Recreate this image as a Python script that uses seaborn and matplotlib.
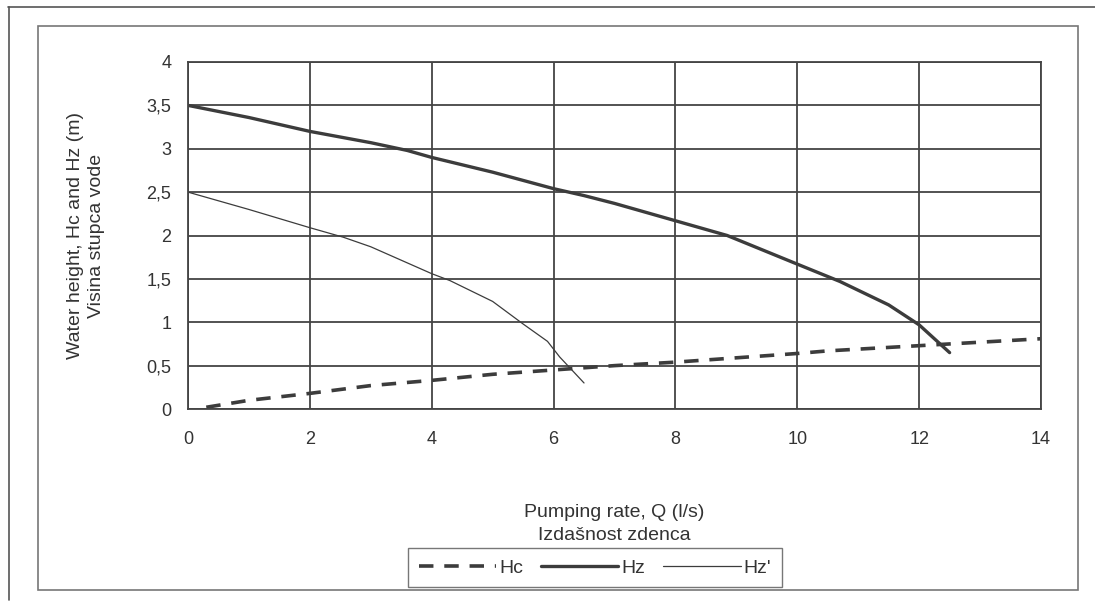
import matplotlib
matplotlib.use('Agg')
import matplotlib.pyplot as plt
import numpy as np
import pandas as pd
import seaborn as sns
from matplotlib.ticker import FuncFormatter, MultipleLocator

# values
hc_q = [0.3, 1, 2, 3, 4, 5, 6, 7, 8, 9, 10, 10.5, 11, 12, 13, 14]
hc_h = [0.02, 0.1, 0.18, 0.27, 0.33, 0.4, 0.45, 0.5, 0.54, 0.59, 0.64, 0.67, 0.69, 0.73, 0.77, 0.81]

hz_q = [0, 1, 2, 3, 3.6, 4, 5, 6, 6.5, 7, 8, 8.85, 10, 10.7, 11.5, 12, 12.5]
hz_h = [3.5, 3.36, 3.2, 3.07, 2.98, 2.9, 2.73, 2.54, 2.46, 2.37, 2.17, 2.0, 1.67, 1.47, 1.2, 0.97, 0.65]

hzp_q = [0, 1, 2, 2.55, 3, 4, 4.3, 5, 5.5, 5.9, 6.1, 6.5]
hzp_h = [2.5, 2.3, 2.09, 1.98, 1.87, 1.56, 1.48, 1.24, 0.98, 0.78, 0.6, 0.3]

df = pd.concat([
    pd.DataFrame({'Q': hc_q, 'H': hc_h, 'serie': 'Hc'}),
    pd.DataFrame({'Q': hz_q, 'H': hz_h, 'serie': 'Hz'}),
    pd.DataFrame({'Q': hzp_q, 'H': hzp_h, 'serie': "Hz'"}),
])

sns.set_style('white')
plt.rcParams['font.family'] = ['Liberation Sans', 'DejaVu Sans']

fig = plt.figure(figsize=(10.95, 6.11), dpi=100)
ax = fig.add_axes([188 / 1095, 1 - 409 / 611, 853 / 1095, 347 / 611])

line_col = '#3c3c3c'
sns.lineplot(data=df[df.serie == 'Hc'], x='Q', y='H', ax=ax, color=line_col,
             lw=2.6, label='Hc', sort=False)
ax.lines[-1].set_dashes([4, 3])
sns.lineplot(data=df[df.serie == 'Hz'], x='Q', y='H', ax=ax, color=line_col,
             lw=2.4, label='Hz', sort=False)
sns.lineplot(data=df[df.serie == "Hz'"], x='Q', y='H', ax=ax, color=line_col,
             lw=0.9, label="Hz'", sort=False)

ax.set_xlim(0, 14)
ax.set_ylim(0, 4)
ax.xaxis.set_major_locator(MultipleLocator(2))
ax.yaxis.set_major_locator(MultipleLocator(0.5))
ax.yaxis.set_major_formatter(FuncFormatter(lambda v, p: ('%g' % v).replace('.', ',')))
ax.grid(True, color='#444444', lw=1.3)
for s in ax.spines.values():
    s.set_color('#444444')
    s.set_linewidth(1.3)
ax.tick_params(axis='both', direction='out', length=5, width=1.2, color='#444444',
               labelsize=13, labelcolor='#333333', pad=7)
ax.tick_params(axis='x', pad=11)

ax.set_xlabel('Pumping rate, Q (l/s)\nIzdašnost zdenca', fontsize=14,
              color='#333333', labelpad=40, linespacing=1.45)
ax.set_ylabel('Water height, Hc and Hz (m)\nVisina stupca vode', fontsize=14,
              color='#333333', labelpad=30, linespacing=1.3)

leg = ax.legend(loc='center', bbox_to_anchor=(0.477, -0.458), ncol=3, frameon=True,
                fancybox=False, edgecolor='#555555', fontsize=14, handlelength=4.0,
                handletextpad=0.15, columnspacing=0.9, borderpad=0.55)
leg.get_frame().set_linewidth(1.0)
for t in leg.get_texts():
    t.set_color('#333333')

# scanned page frames
fig.add_artist(plt.Line2D([8 / 1095, 1.0], [1 - 7 / 611, 1 - 7 / 611],
                          transform=fig.transFigure, color='#555555', lw=1.2))
fig.add_artist(plt.Line2D([9 / 1095, 9 / 1095], [1 - 7 / 611, 1 - 600 / 611],
                          transform=fig.transFigure, color='#555555', lw=1.2))
fig.add_artist(plt.Rectangle((38 / 1095, 1 - 590 / 611), 1040 / 1095, 564 / 611,
                             transform=fig.transFigure, fill=False,
                             edgecolor='#777777', lw=1.2))

fig.savefig('out.png', dpi=100)
